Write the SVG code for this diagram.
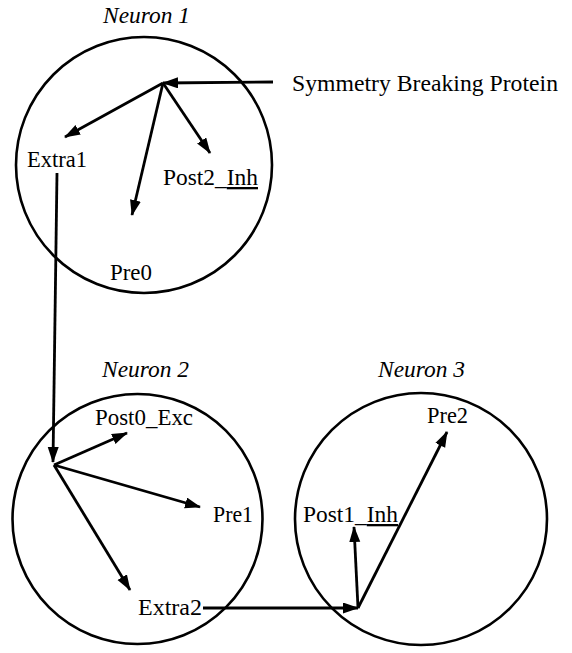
<svg xmlns="http://www.w3.org/2000/svg" width="572" height="653" viewBox="0 0 572 653">
<style>
.c{fill:none;stroke:#000;stroke-width:2.6}
.a{fill:none;stroke:#000;stroke-width:2.8;marker-end:url(#ah)}
text{font-family:"Liberation Serif","Times New Roman",serif;font-size:23px;fill:#000}
.t{font-style:italic}
</style>
<defs>
<marker id="ah" markerUnits="userSpaceOnUse" markerWidth="16" markerHeight="12" refX="15" refY="5.5" orient="auto">
<path d="M0,0 L16,5.5 L0,11 z" fill="#000"/>
</marker>
</defs>
<rect width="572" height="653" fill="#fff"/>
<g id="neuron1">
<circle class="c" cx="144" cy="165" r="128"/>
<text class="t" x="103" y="23" textLength="87" lengthAdjust="spacingAndGlyphs">Neuron 1</text>
</g>
<g id="neuron2">
<circle class="c" cx="137.5" cy="519" r="125"/>
<text class="t" x="102" y="377" textLength="87" lengthAdjust="spacingAndGlyphs">Neuron 2</text>
</g>
<g id="neuron3">
<circle class="c" cx="421" cy="519" r="126"/>
<text class="t" x="378" y="377" textLength="87" lengthAdjust="spacingAndGlyphs">Neuron 3</text>
</g>
<g id="symmetry">
<text x="292" y="91" textLength="266" lengthAdjust="spacingAndGlyphs">Symmetry Breaking Protein</text>
</g>
<g id="extra1"><text x="27" y="167" textLength="60" lengthAdjust="spacingAndGlyphs">Extra1</text></g>
<g id="post2"><text x="163" y="185" textLength="95" lengthAdjust="spacingAndGlyphs">Post2_<tspan text-decoration="underline">Inh</tspan></text></g>
<g id="pre0"><text x="110" y="280" textLength="42" lengthAdjust="spacingAndGlyphs">Pre0</text></g>
<g id="post0"><text x="95" y="425" textLength="98" lengthAdjust="spacingAndGlyphs">Post0_Exc</text></g>
<g id="pre1"><text x="213" y="522" textLength="40" lengthAdjust="spacingAndGlyphs">Pre1</text></g>
<g id="extra2"><text x="138" y="615" textLength="64" lengthAdjust="spacingAndGlyphs">Extra2</text></g>
<g id="post1"><text x="303" y="522" textLength="95" lengthAdjust="spacingAndGlyphs">Post1_<tspan text-decoration="underline">Inh</tspan></text></g>
<g id="pre2"><text x="427" y="423" textLength="41" lengthAdjust="spacingAndGlyphs">Pre2</text></g>
<g id="connectors">
<line class="a" x1="273" y1="82" x2="163" y2="83"/>
<line class="a" x1="163" y1="83" x2="65" y2="137"/>
<line class="a" x1="163" y1="83" x2="210" y2="153"/>
<line class="a" x1="163" y1="83" x2="132" y2="215"/>
<line class="a" x1="57" y1="173" x2="53" y2="462"/>
<line class="a" x1="54" y1="465" x2="127" y2="433"/>
<line class="a" x1="54" y1="465" x2="200" y2="507"/>
<line class="a" x1="54" y1="465" x2="130" y2="590"/>
<line class="a" x1="203" y1="608" x2="358" y2="608"/>
<line class="a" x1="358" y1="608" x2="354" y2="527"/>
<line class="a" x1="358" y1="608" x2="447" y2="432"/>
</g>
</svg>
